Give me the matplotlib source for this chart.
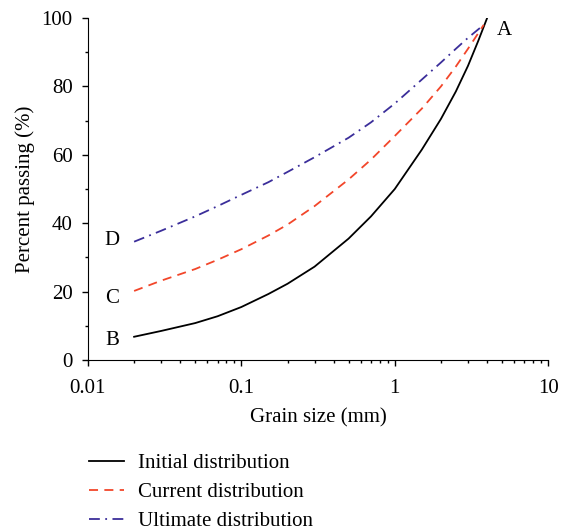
import matplotlib.pyplot as plt
import numpy as np

plt.rcParams['font.family'] = ['Liberation Serif', 'DejaVu Serif']

# grain size (mm) and percent passing
size_i = [0.02, 0.03, 0.05, 0.07, 0.1, 0.15, 0.2, 0.3, 0.5, 0.7, 1.0, 1.5, 2.0, 2.5, 3.0, 3.5, 4.0]
initial = [6.8, 8.5, 10.8, 12.8, 15.5, 19.3, 22.3, 27.3, 35.5, 42.0, 50.0, 61.5, 70.5, 78.5, 86.0, 93.3, 100]

size_c = [0.02, 0.03, 0.05, 0.07, 0.1, 0.15, 0.2, 0.3, 0.5, 0.7, 1.0, 1.5, 2.0, 2.5, 3.0, 3.8]
current = [20.2, 23.2, 26.6, 29.3, 32.4, 36.4, 39.6, 45.0, 52.8, 58.6, 65.5, 73.5, 80.0, 85.8, 91.0, 98.0]
ultimate = [34.6, 37.8, 42.0, 45.0, 48.3, 52.0, 55.0, 59.3, 65.0, 69.5, 75.0, 82.0, 87.0, 91.0, 94.2, 98.0]

fig = plt.figure(figsize=(5.71, 5.31), dpi=100)
ax = fig.add_axes([0.154, 0.322, 0.806, 0.644])

ax.plot(size_i, initial, color='black', lw=1.3, label='Initial distribution')
ax.plot(size_c, current, color='#f2462a', lw=1.3, ls=(0, (5, 3.5)), label='Current distribution')
ax.plot(size_c, ultimate, color='#3b2e9a', lw=1.3, ls=(0, (6, 3, 1, 3)), label='Ultimate distribution')

ax.set_xscale('log')
ax.set_xlim(0.01, 10)
ax.set_ylim(0, 100)
ax.set_yticks([0, 20, 40, 60, 80, 100])
ax.set_yticks([10, 30, 50, 70, 90], minor=True)
ax.set_xticks([0.01, 0.1, 1, 10])
ax.set_xticklabels(['0.01', '0.1', '1', '10'])

for s in ['top', 'right']:
    ax.spines[s].set_visible(False)
ax.tick_params(which='major', length=4.5, width=1, labelsize=15, direction='out')
ax.tick_params(which='minor', length=2.5, width=1, direction='out')
ax.tick_params(axis='x', pad=9.5)
ax.tick_params(axis='y', pad=6.5)

ax.set_xlabel('Grain size (mm)', fontsize=15, labelpad=7)
ax.set_ylabel('Percent passing (%)', fontsize=15, labelpad=5)

ax.text(4.6, 96.5, 'A', fontsize=15, ha='left', va='center')
ax.text(0.0144, 5.8, 'B', fontsize=15, ha='center', va='center')
ax.text(0.0144, 18.1, 'C', fontsize=15, ha='center', va='center')
ax.text(0.0144, 35, 'D', fontsize=15, ha='center', va='center')

fig.legend(loc='upper left', bbox_to_anchor=(0.142, 0.162), frameon=False, borderaxespad=0,
           fontsize=15, handlelength=1.65, labelspacing=0.45, handletextpad=0.67)

fig.savefig('out.png', dpi=100)
